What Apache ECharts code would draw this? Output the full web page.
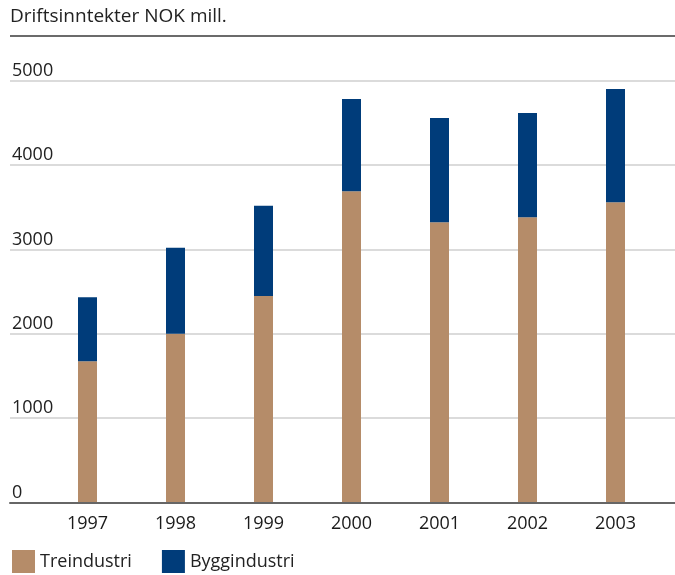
<!DOCTYPE html>
<html>
<head>
<meta charset="utf-8">
<script src="https://cdn.jsdelivr.net/npm/echarts@6/dist/echarts.min.js"></script>
<style>
html,body{margin:0;padding:0;background:#fff;}
#chart{width:675px;height:575px;}
</style>
</head>
<body>
<div id="chart"></div>
<script>
const years = ['1997','1998','1999','2000','2001','2002','2003'];
const treindustri = [1673, 2000, 2448, 3691, 3323, 3382, 3560];
const byggindustri = [760, 1020, 1070, 1092, 1234, 1235, 1342];
const seriesNames = ['Treindustri', 'Byggindustri'];
const yTicks = [0, 1000, 2000, 3000, 4000, 5000];

const FONT = '"Open Sans", "Noto Sans", sans-serif';
const chart = echarts.init(document.getElementById('chart'), null, {renderer: 'canvas'});
const gTop = 80.7, gBottom = 72.5;
chart.setOption({
  animation: false,
  textStyle: {fontFamily: FONT},
  title: {
    text: 'Driftsinntekter NOK mill.',
    left: 10, top: 7, padding: 0,
    textStyle: {fontFamily: FONT, fontSize: 19, fontWeight: 'normal', color: '#222'}
  },
  graphic: [{
    type: 'line', shape: {x1: 10, y1: 36, x2: 675, y2: 36},
    style: {stroke: '#6b6b6b', lineWidth: 2}
  }],
  legend: {
    data: seriesNames,
    left: 12, top: 550, padding: 0,
    itemWidth: 23, itemHeight: 23, itemGap: 30,
    icon: 'rect',
    textStyle: {fontFamily: FONT, fontSize: 18, color: '#222', padding: [5, 0, 0, 0]}
  },
  grid: [
    {left: 10, right: 0, top: gTop, bottom: gBottom},
    {left: 43.5, width: 616, top: gTop, bottom: gBottom}
  ],
  xAxis: [
    {gridIndex: 0, type: 'category', data: [''], axisTick: {show: false}, axisLabel: {show: false},
     axisLine: {show: true, lineStyle: {color: '#666', width: 2}}, z: 5},
    {gridIndex: 1, type: 'category', data: years, axisTick: {show: false},
     axisLine: {show: false},
     axisLabel: {fontFamily: FONT, fontSize: 18, color: '#1a1a1a', margin: 12}}
  ],
  yAxis: [
    {gridIndex: 0, type: 'value', min: yTicks[0], max: yTicks[yTicks.length - 1], interval: 1000,
     axisLine: {show: false}, axisTick: {show: false},
     splitLine: {lineStyle: {color: '#cfcfcf', width: 1.5}},
     axisLabel: {inside: true, margin: 2, align: 'left', verticalAlign: 'bottom', padding: [0, 0, 1, 0],
       fontFamily: FONT, fontSize: 18, color: '#222',
       formatter: v => String(v)}},
    {gridIndex: 1, type: 'value', min: 0, max: 5000, show: false, splitLine: {show: false}}
  ],
  series: [
    {name: seriesNames[0], type: 'bar', stack: 's', xAxisIndex: 1, yAxisIndex: 1,
     barWidth: 19, itemStyle: {color: '#B58C69'}, data: treindustri},
    {name: seriesNames[1], type: 'bar', stack: 's', xAxisIndex: 1, yAxisIndex: 1,
     barWidth: 19, itemStyle: {color: '#003C7A'}, data: byggindustri}
  ]
});
</script>
</body>
</html>
